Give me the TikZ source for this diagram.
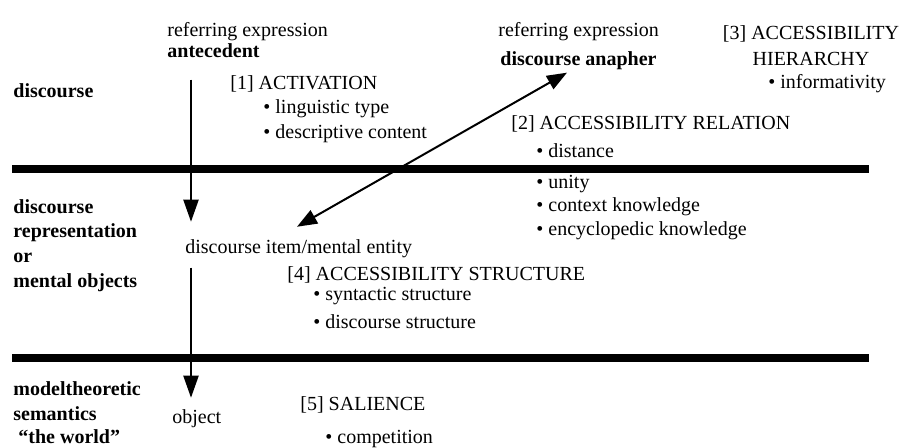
\documentclass[tikz,border=0pt]{standalone}
\usepackage{fontspec}
\setmainfont{Liberation Serif}
\usetikzlibrary{arrows.meta,positioning,calc}

\begin{document}
\begin{tikzpicture}[x=0.5pt, y=-0.5pt,
    txt/.style={anchor=base west, inner sep=0pt, font=\fontsize{10}{12}\selectfont},
    lbl/.style={txt, font=\fontsize{10}{12}\selectfont\bfseries},
    sep/.style={line width=4pt},
    arr/.style={line width=1pt, -{Triangle[length=11pt,width=7.5pt]}},
    dbl/.style={line width=1pt, {Triangle[length=10pt,width=7.5pt]}-{Triangle[length=10pt,width=7.5pt]}}]
    \useasboundingbox (0,0) rectangle (904,447);

    % Level labels
    \node[lbl] (lvlDisc) at (13,97) {discourse};
    \node[lbl] (lvlRepA) at (13,213) {discourse};
    \node[lbl] (lvlRepB) at (13,237) {representation};
    \node[lbl] (lvlRepC) at (13,262) {or};
    \node[lbl] (lvlRepD) at (13,287) {mental objects};
    \node[lbl] (lvlSemA) at (13,395) {modeltheoretic};
    \node[lbl] (lvlSemB) at (13,420) {semantics};
    \node[lbl] (lvlSemC) at (18,443) {``the world''};

    % Separators between the levels
    \draw[sep] (12,169) -- (869,169);
    \draw[sep] (12,358) -- (869,358);

    % Antecedent column
    \node[txt] (anteExpr) at (167,36) {referring expression};
    \node[lbl] (ante) at (167,57) {antecedent};
    \node[txt] (item) at (185,253) {discourse item/mental entity};
    \node[txt] (obj) at (172,423) {object};
    \coordinate (axis) at (191,0);

    % Anapher
    \node[txt] (anaphExpr) at (498,36) {referring expression};
    \node[lbl] (anaph) at (500,65) {discourse anapher};

    % [1] Activation
    \node[txt] (act) at (230,89) {[1] ACTIVATION};
    \node[txt] (actA) at (263,113) {\textbullet\ linguistic type};
    \node[txt] (actB) at (263,138) {\textbullet\ descriptive content};

    % [2] Accessibility relation
    \node[txt] (rel) at (511,129) {[2] ACCESSIBILITY RELATION};
    \node[txt] (relA) at (536,157) {\textbullet\ distance};
    \node[txt] (relB) at (536,188) {\textbullet\ unity};
    \node[txt] (relC) at (536,211) {\textbullet\ context knowledge};
    \node[txt] (relD) at (536,235) {\textbullet\ encyclopedic knowledge};

    % [3] Accessibility hierarchy
    \node[txt, anchor=base] (hier) at (811,39) {[3] ACCESSIBILITY};
    \node[txt, anchor=base] (hierB) at (811,65) {HIERARCHY};
    \node[txt] (hierA) at (768,88) {\textbullet\ informativity};

    % [4] Accessibility structure
    \node[txt] (str) at (287,280) {[4] ACCESSIBILITY STRUCTURE};
    \node[txt] (strA) at (313,300) {\textbullet\ syntactic structure};
    \node[txt] (strB) at (313,328) {\textbullet\ discourse structure};

    % [5] Salience
    \node[txt] (sal) at (300,410) {[5] SALIENCE};
    \node[txt] (salA) at (325,443) {\textbullet\ competition};

    % Arrows
    \draw[arr, shorten <=11pt, shorten >=8.5pt] (ante.south -| axis) -- (item.north -| axis);
    \draw[arr, shorten <=5pt, shorten >=5.5pt] (item.south -| axis) -- (obj.north -| axis);
    \draw[dbl] ([shift={(56pt,6pt)}]item.north west) -- ([shift={(33.5pt,-1.5pt)}]anaph.south west);
\end{tikzpicture}
\end{document}
